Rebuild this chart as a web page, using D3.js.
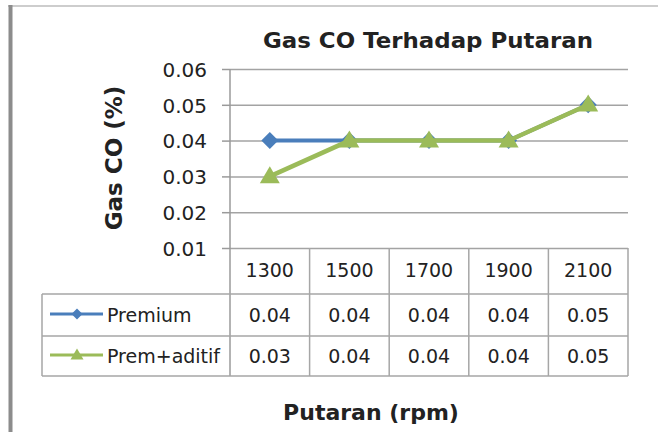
<!DOCTYPE html>
<html>
<head>
<meta charset="utf-8">
<script src="https://cdn.jsdelivr.net/npm/d3@7"></script>
<style>
  body { margin: 0; background: #fff; }
  text { font-family: "DejaVu Sans", sans-serif; fill: #222; }
</style>
</head>
<body>
<script>
var categories = ['1300', '1500', '1700', '1900', '2100'];
var premium = [0.04, 0.04, 0.04, 0.04, 0.05];
var premAditif = [0.03, 0.04, 0.04, 0.04, 0.05];
var yTicks = [0.01, 0.02, 0.03, 0.04, 0.05, 0.06];
var seriesNames = ['Premium', 'Prem+aditif'];

var svg = d3.select('body').append('svg')
        .attr('width', 658)
        .attr('height', 432);

// frame like the cropped screenshot
svg.append('line').attr('x1', 8).attr('x2', 658).attr('y1', 6).attr('y2', 6)
  .attr('stroke', '#bdbdbd').attr('stroke-width', 1.5);
svg.append('line').attr('x1', 10.5).attr('x2', 10.5).attr('y1', 5).attr('y2', 432)
  .attr('stroke', '#8c8c8c').attr('stroke-width', 4);

var x = d3.scaleBand().domain(categories).range([230, 628]);
var y = d3.scaleLinear().domain([0.01, 0.06]).range([248, 69]);
var cx = function(c) { return x(c) + x.bandwidth() / 2; };

// grid
svg.append('g')
  .attr('transform', 'translate(230,0)')
  .call(d3.axisLeft(y).tickValues(yTicks).tickSize(-398).tickFormat(''))
  .call(function(g) {
    g.select('.domain').remove();
    g.selectAll('line').attr('stroke', '#a3a3a3').attr('stroke-width', 1.5);
  });

// y axis
svg.append('g')
  .attr('transform', 'translate(230,0)')
  .call(d3.axisLeft(y).tickValues(yTicks).tickSize(8).tickPadding(15).tickFormat(d3.format('.2f')))
  .call(function(g) {
    g.select('.domain').remove();
    g.selectAll('line').attr('stroke', '#9a9a9a').attr('stroke-width', 1.5);
    g.selectAll('text').attr('font-size', 20).attr('font-family', 'DejaVu Sans')
      .attr('fill', '#222').attr('dy', '0.36em');
  });
svg.append('line').attr('x1', 230).attr('x2', 230).attr('y1', 69).attr('y2', 376)
  .attr('stroke', '#9a9a9a').attr('stroke-width', 1.5);

// data table
var rowY = [248, 294, 336, 376];
var tbl = svg.append('g').attr('stroke', '#a6a6a6').attr('stroke-width', 1.5);
tbl.selectAll('line.v')
  .data(categories)
  .enter().append('line')
    .attr('x1', function(d) { return x(d) + x.bandwidth(); })
    .attr('x2', function(d) { return x(d) + x.bandwidth(); })
    .attr('y1', 248).attr('y2', 376);
tbl.append('line').attr('x1', 42).attr('x2', 42).attr('y1', 294).attr('y2', 376);
tbl.selectAll('line.h')
  .data(rowY.slice(1))
  .enter().append('line')
    .attr('x1', 42).attr('x2', 628)
    .attr('y1', function(d) { return d; }).attr('y2', function(d) { return d; });

svg.append('g').selectAll('text')
  .data(categories)
  .enter().append('text')
    .attr('x', cx).attr('y', 277)
    .attr('text-anchor', 'middle').attr('font-size', 19)
    .text(function(d) { return d; });

var rows = [premium, premAditif];
var rowBase = [322, 363];
rows.forEach(function(vals, i) {
  svg.append('g').selectAll('text')
    .data(vals)
    .enter().append('text')
      .attr('x', function(d, j) { return cx(categories[j]); })
      .attr('y', rowBase[i])
      .attr('text-anchor', 'middle').attr('font-size', 19)
      .text(function(d) { return d3.format('.2f')(d); });
  svg.append('text').attr('x', 107).attr('y', rowBase[i])
    .attr('font-size', 19).text(seriesNames[i]);
});

var blue = '#4a7ebb', green = '#9bbb59';
var diamond = function(s) { return 'M0,' + (-s) + 'L' + s + ',0L0,' + s + 'L' + (-s) + ',0Z'; };
var triangle = function(w, h) { return 'M0,' + (-h * 0.6) + 'L' + (w / 2) + ',' + (h * 0.4) + 'L' + (-w / 2) + ',' + (h * 0.4) + 'Z'; };

// legend keys
svg.append('line').attr('x1', 50).attr('x2', 103).attr('y1', 314).attr('y2', 314)
  .attr('stroke', blue).attr('stroke-width', 3);
svg.append('path').attr('d', diamond(5.5)).attr('transform', 'translate(77,314)').attr('fill', blue);
svg.append('line').attr('x1', 50).attr('x2', 103).attr('y1', 355).attr('y2', 355)
  .attr('stroke', green).attr('stroke-width', 3);
svg.append('path').attr('d', triangle(13, 11)).attr('transform', 'translate(77,355)').attr('fill', green);

// series
var line = d3.line()
  .x(function(d, j) { return cx(categories[j]); })
  .y(function(d) { return y(d); });

svg.append('path').datum(premium)
  .attr('d', line).attr('fill', 'none').attr('stroke', blue).attr('stroke-width', 4);
svg.append('g').selectAll('path')
  .data(premium)
  .enter().append('path')
    .attr('d', diamond(8.5))
    .attr('transform', function(d, j) { return 'translate(' + cx(categories[j]) + ',' + y(d) + ')'; })
    .attr('fill', blue);

svg.append('path').datum(premAditif)
  .attr('d', line).attr('fill', 'none').attr('stroke', green).attr('stroke-width', 4.5);
svg.append('g').selectAll('path')
  .data(premAditif)
  .enter().append('path')
    .attr('d', triangle(20, 17))
    .attr('transform', function(d, j) { return 'translate(' + cx(categories[j]) + ',' + y(d) + ')'; })
    .attr('fill', green);

// titles
svg.append('text').attr('x', 428).attr('y', 48)
  .attr('text-anchor', 'middle').attr('font-size', 22).attr('font-weight', 'bold')
  .attr('textLength', 330).attr('lengthAdjust', 'spacingAndGlyphs')
  .text('Gas CO Terhadap Putaran');

svg.append('text')
  .attr('transform', 'translate(122,158) rotate(-90)')
  .attr('text-anchor', 'middle').attr('font-size', 23).attr('font-weight', 'bold')
  .text('Gas CO (%)');

svg.append('text').attr('x', 371).attr('y', 420)
  .attr('text-anchor', 'middle').attr('font-size', 22).attr('font-weight', 'bold')
  .text('Putaran (rpm)');
</script>
</body>
</html>
